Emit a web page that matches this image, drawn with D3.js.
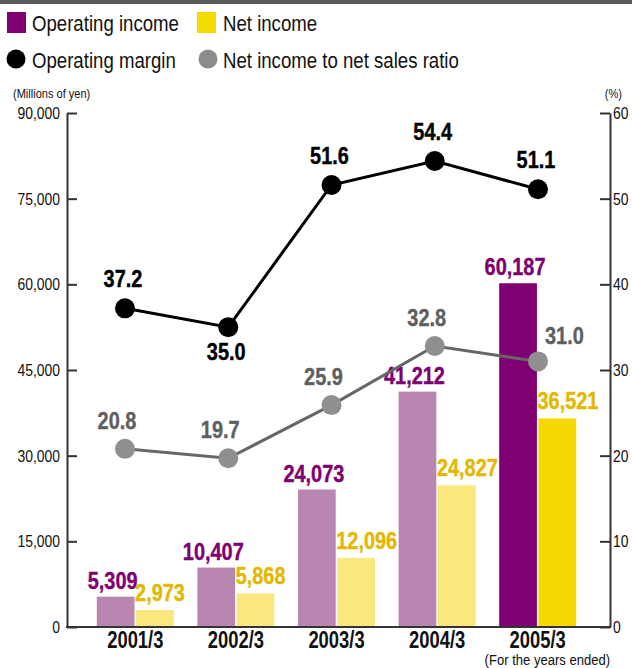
<!DOCTYPE html>
<html>
<head>
<meta charset="utf-8">
<script src="https://cdn.jsdelivr.net/npm/d3@7"></script>
<style>
  body { margin:0; background:#fff; }
  svg text { font-family:"Liberation Sans",Arial,sans-serif; }
  .axis path, .axis line { stroke:#333; stroke-width:2; }
  .axis text { font-size:17px; fill:#111; }
  .vlab { font-size:24px; font-weight:bold; stroke-width:0.4px; }
  .cat { font-size:23px; font-weight:bold; fill:#111; }
</style>
</head>
<body>
<script>
// data
var years = ["2001/3","2002/3","2003/3","2004/3","2005/3"];
var operatingIncome = [5309, 10407, 24073, 41212, 60187];
var netIncome = [2973, 5868, 12096, 24827, 36521];
var operatingMargin = [37.2, 35.0, 51.6, 54.4, 51.1];
var netRatio = [20.8, 19.7, 25.9, 32.8, 31.0];
var yenTicks = [0, 15000, 30000, 45000, 60000, 75000, 90000];
var pctTicks = [0, 10, 20, 30, 40, 50, 60];

var W = 632, H = 668;
var svg = d3.select("body").append("svg")
    .attr("width", W)
    .attr("height", H);

// no condensed face installed, so narrow the text by hand
function squeeze(sel, sx) {
  sel.each(function() {
    var t = d3.select(this);
    var x = +t.attr("x") || 0, y = +t.attr("y") || 0;
    t.attr("x", null).attr("y", null)
     .attr("transform", "translate(" + x + "," + y + ") scale(" + sx + ",1)");
  });
}

// top rule
svg.append("rect").attr("x",0).attr("y",0).attr("width",W).attr("height",4).attr("fill","#5a5a5a");

// legend
var leg = svg.append("g").attr("class","legend");
leg.append("rect").attr("x",7).attr("y",12).attr("width",19).attr("height",21).attr("fill","#7f0070");
leg.append("rect").attr("x",197).attr("y",12).attr("width",19).attr("height",21).attr("fill","#f5dc00");
leg.append("circle").attr("cx",16).attr("cy",59).attr("r",9.5).attr("fill","#000");
leg.append("circle").attr("cx",208).attr("cy",59).attr("r",9.5).attr("fill","#8c8c8c");
var legTxt = [["Operating income",32,31],["Net income",223,31],["Operating margin",32,68],["Net income to net sales ratio",223,68]];
leg.selectAll("text").data(legTxt).enter().append("text")
    .attr("x", function(d){return d[1]})
    .attr("y", function(d){return d[2]})
    .style("font-size","23px")
    .attr("fill","#111")
    .text(function(d){return d[0]})
    .call(squeeze, 0.81);

// scales
var x0 = 67, x1 = 610, yTop = 113, yBot = 627;
var yYen = d3.scaleLinear().domain([0, 90000]).range([yBot, yTop]);
var yPct = d3.scaleLinear().domain([0, 60]).range([yBot, yTop]);
var xBar = d3.scaleBand().domain(years).range([85, 588]);
var xSub = d3.scaleBand().domain(["op","net"]).range([0, 77]).paddingInner(0.04);
var xPt = d3.scalePoint().domain(years).range([125, 538]);

// unit labels
svg.append("text").attr("x",13).attr("y",98).style("font-size","13px").attr("fill","#111")
    .text("(Millions of yen)").call(squeeze, 0.85);
svg.append("text").attr("x",622).attr("y",98).attr("text-anchor","end").style("font-size","13px").attr("fill","#111")
    .text("(%)").call(squeeze, 0.85);

// bars
var colorsOp = years.map(function(d,i){ return i == years.length-1 ? "#7f0070" : "#b985b1"; });
var colorsNet = years.map(function(d,i){ return i == years.length-1 ? "#f5d800" : "#fae77d"; });
var pairX = function(i){ return xBar(years[i]) + xBar.bandwidth()/2 - 38.5; };

var gb = svg.append("g");
gb.selectAll("rect.op").data(operatingIncome).enter().append("rect")
    .attr("class","op")
    .attr("x", function(d,i){ return pairX(i) + xSub("op"); })
    .attr("y", function(d){ return yYen(d); })
    .attr("width", xSub.bandwidth())
    .attr("height", function(d){ return yBot - yYen(d); })
    .attr("fill", function(d,i){ return colorsOp[i]; });
gb.selectAll("rect.net").data(netIncome).enter().append("rect")
    .attr("class","net")
    .attr("x", function(d,i){ return pairX(i) + xSub("net"); })
    .attr("y", function(d){ return yYen(d); })
    .attr("width", xSub.bandwidth())
    .attr("height", function(d){ return yBot - yYen(d); })
    .attr("fill", function(d,i){ return colorsNet[i]; });

var fmt = d3.format(",");
gb.selectAll("text.op").data(operatingIncome).enter().append("text")
    .attr("class","vlab op")
    .attr("x", function(d,i){ return pairX(i) + xSub("op") + xSub.bandwidth()/2 - 3; })
    .attr("y", function(d){ return yYen(d) - 8; })
    .attr("text-anchor","middle")
    .attr("fill","#7f0070").attr("stroke","#7f0070")
    .text(function(d){ return fmt(d); })
    .call(squeeze, 0.83);
gb.selectAll("text.net").data(netIncome).enter().append("text")
    .attr("class","vlab net")
    .attr("x", function(d,i){ return pairX(i) + xSub("net") - 1; })
    .attr("y", function(d){ return yYen(d) - 9; })
    .attr("fill","#e3b800").attr("stroke","#e3b800")
    .text(function(d){ return fmt(d); })
    .call(squeeze, 0.83);

// axes
var axL = d3.axisLeft(yYen).tickValues(yenTicks).tickFormat(fmt).tickSizeInner(-10).tickSizeOuter(0).tickPadding(7);
var axR = d3.axisRight(yPct).tickValues(pctTicks).tickSizeInner(-10).tickSizeOuter(0).tickPadding(3);
svg.append("g").attr("class","axis").attr("transform","translate(" + x0 + ",0)").call(axL)
    .selectAll("text").call(squeeze, 0.82);
svg.append("g").attr("class","axis").attr("transform","translate(" + x1 + ",0)").call(axR)
    .selectAll("text").call(squeeze, 0.82);
svg.append("line").attr("x1",x0-1).attr("x2",x1+1).attr("y1",yBot).attr("y2",yBot)
    .attr("stroke","#333").attr("stroke-width",2);

// category labels
svg.selectAll("text.cat").data(years).enter().append("text")
    .attr("class","cat")
    .attr("x", function(d){ return xBar(d) + xBar.bandwidth()/2; })
    .attr("y", 648)
    .attr("text-anchor","middle")
    .text(function(d){ return d; })
    .call(squeeze, 0.8);
svg.append("text").attr("x",610).attr("y",665).attr("text-anchor","end")
    .style("font-size","15px").attr("fill","#111").text("(For the years ended)")
    .call(squeeze, 0.87);

// lines
var lineFn = function(vals) {
  return d3.line()
    .x(function(d,i){ return xPt(years[i]); })
    .y(function(d){ return yPct(d); })(vals);
};

var gr = svg.append("g");
gr.append("path").attr("d", lineFn(netRatio)).attr("fill","none").attr("stroke","#666").attr("stroke-width",3);
gr.selectAll("circle").data(netRatio).enter().append("circle")
    .attr("cx", function(d,i){ return xPt(years[i]); })
    .attr("cy", function(d){ return yPct(d); })
    .attr("r", 10)
    .attr("fill","#8f8f8f");
gr.selectAll("text").data(netRatio).enter().append("text")
    .attr("class","vlab")
    .attr("x", function(d,i){ return i == netRatio.length-1 ? xPt(years[i]) + 7 : xPt(years[i]) - 8; })
    .attr("y", function(d,i){ return yPct(d) - (i == netRatio.length-1 ? 17 : 20); })
    .attr("text-anchor", function(d,i){ return i == netRatio.length-1 ? "start" : "middle"; })
    .attr("fill","#5f5f5f").attr("stroke","#5f5f5f")
    .text(function(d){ return d.toFixed(1); })
    .call(squeeze, 0.83);

var gm = svg.append("g");
gm.append("path").attr("d", lineFn(operatingMargin)).attr("fill","none").attr("stroke","#000").attr("stroke-width",3);
gm.selectAll("circle").data(operatingMargin).enter().append("circle")
    .attr("cx", function(d,i){ return xPt(years[i]); })
    .attr("cy", function(d){ return yPct(d); })
    .attr("r", 10)
    .attr("fill","#000");
// label goes under a point that sits below both neighbours
var isLow = function(vals, i) {
  return i > 0 && i < vals.length-1 && vals[i] < vals[i-1] && vals[i] < vals[i+1];
};
gm.selectAll("text").data(operatingMargin).enter().append("text")
    .attr("class","vlab")
    .attr("x", function(d,i){ return xPt(years[i]) - 2; })
    .attr("y", function(d,i){ return isLow(operatingMargin,i) ? yPct(d) + 33 : yPct(d) - 21; })
    .attr("text-anchor","middle")
    .attr("fill","#000").attr("stroke","#000")
    .text(function(d){ return d.toFixed(1); })
    .call(squeeze, 0.83);
</script>
</body>
</html>
